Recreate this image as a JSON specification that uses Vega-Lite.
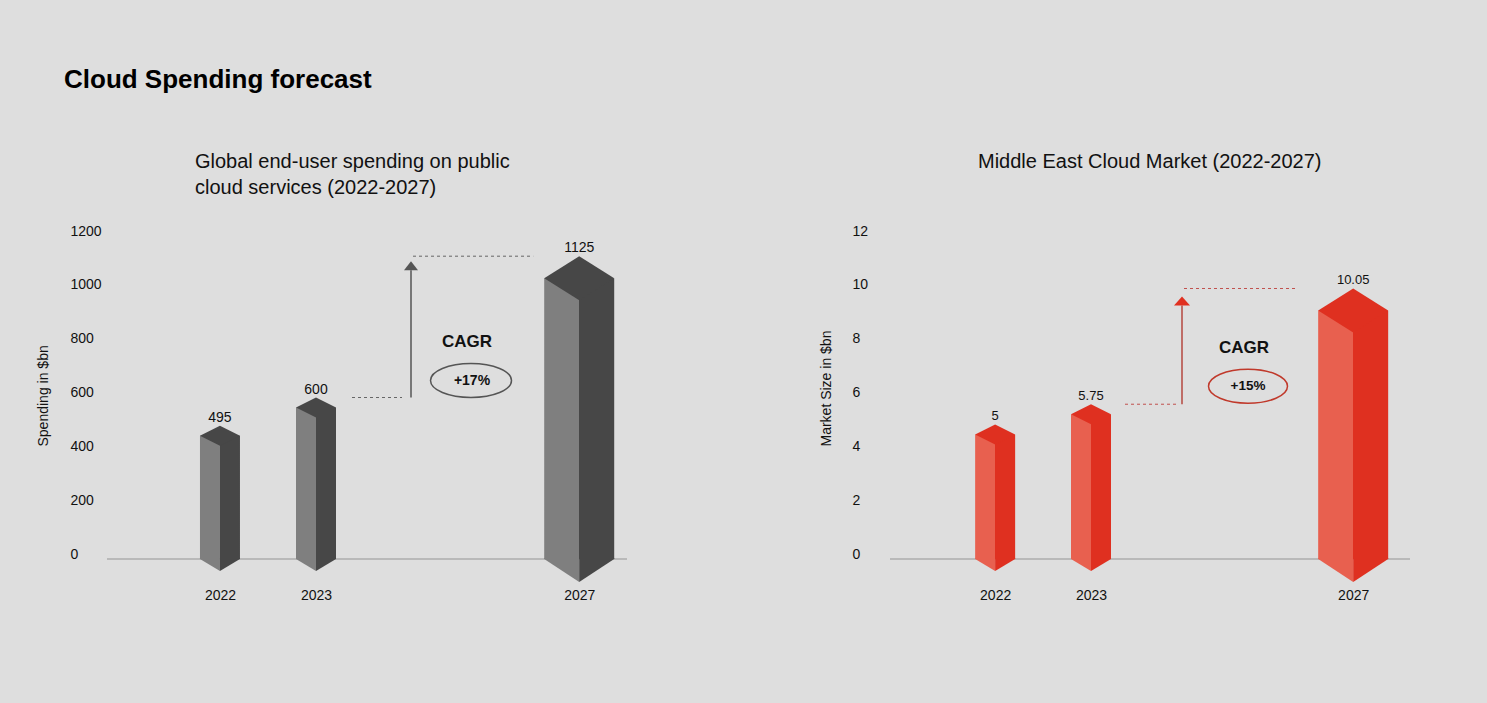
{
  "$schema": "https://vega.github.io/schema/vega-lite/v6.json",
  "background": "#dedede",
  "padding": {"left": 36, "top": 67, "right": 78, "bottom": 114},
  "title": {"text": "Cloud Spending forecast", "anchor": "start", "dx": 28, "offset": 59, "fontSize": 26, "fontWeight": "bold", "font": "Liberation Sans", "color": "#000000"},
  "spacing": 191,
  "config": {"view": {"stroke": null}, "font": "Liberation Sans", "text": {"font": "Liberation Sans"}},
  "hconcat": [
    {
      "width": 520, "height": 323,
      "title": {"text": ["Global end-user spending on public", "cloud services (2022-2027)"], "anchor": "start", "dx": 159, "offset": 26, "fontSize": 20, "fontWeight": "normal", "lineHeight": 26, "color": "#111111", "font": "Liberation Sans"},
      "data": {"values": [{"year": 2022, "spending": 495}, {"year": 2023, "spending": 600}, {"year": 2027, "spending": 1125}]},
      "layer": [
        {"mark": {"type": "rule", "color": "#b8b8b8", "strokeWidth": 1.5}, "encoding": {"y": {"datum": 0, "type": "quantitative"}}},
        {"transform": [{"filter": "datum.year < 2027"}],
         "mark": {"type": "bar", "orient": "vertical", "width": 40, "yOffset": 10, "fill": {"gradient": "linear", "x1": 0, "y1": 0, "x2": 1, "y2": 0, "stops": [{"offset": 0, "color": "#7f7f7f"}, {"offset": 0.5, "color": "#7f7f7f"}, {"offset": 0.5, "color": "#474747"}, {"offset": 1, "color": "#474747"}]}},
         "encoding": {
           "x": {"field": "year", "type": "quantitative", "scale": {"domain": [2020.89, 2023, 2027.66], "range": [0, 209, 520], "nice": false, "zero": false},
                 "axis": {"values": [2022, 2023, 2027], "format": "d", "ticks": false, "domain": false, "grid": false, "labelPadding": 29, "labelFontSize": 14, "labelColor": "#111111", "labelFont": "Liberation Sans", "title": null}},
           "y": {"field": "spending", "type": "quantitative", "scale": {"domain": [0, 1200], "nice": false, "zero": true},
                 "axis": {"values": [0, 200, 400, 600, 800, 1000, 1200], "format": "d", "ticks": false, "domain": false, "grid": false, "labelAlign": "left", "labelPadding": 37, "labelOffset": -5, "labelFontSize": 14, "labelColor": "#111111", "labelFont": "Liberation Sans",
                          "title": "Spending in $bn", "titleFontSize": 14, "titleFontWeight": "normal", "titleFont": "Liberation Sans", "titleColor": "#111111", "titleX": -57, "titleY": 210, "titleAngle": -90, "titleAlign": "left", "titleBaseline": "bottom"}},
           "y2": {"datum": 0}
         }},
        {"transform": [{"filter": "datum.year == 2027"}],
         "mark": {"type": "bar", "orient": "vertical", "width": 70, "yOffset": 22, "fill": {"gradient": "linear", "x1": 0, "y1": 0, "x2": 1, "y2": 0, "stops": [{"offset": 0, "color": "#7f7f7f"}, {"offset": 0.5, "color": "#7f7f7f"}, {"offset": 0.5, "color": "#474747"}, {"offset": 1, "color": "#474747"}]}},
         "encoding": {"x": {"field": "year", "type": "quantitative"}, "y": {"field": "spending", "type": "quantitative"}, "y2": {"datum": 0}}},
        {"transform": [{"filter": "datum.year < 2027"}],
         "mark": {"type": "point", "shape": "M-1,0.5L0,0L1,0.5L0,1Z", "size": 1600, "filled": true, "color": "#474747", "opacity": 1, "strokeWidth": 0},
         "encoding": {"x": {"field": "year", "type": "quantitative"}, "y": {"field": "spending", "type": "quantitative"}}},
        {"transform": [{"filter": "datum.year == 2027"}],
         "mark": {"type": "point", "shape": "M-1,0.63L0,0L1,0.63L0,1.26Z", "size": 4900, "filled": true, "color": "#474747", "opacity": 1, "strokeWidth": 0},
         "encoding": {"x": {"field": "year", "type": "quantitative"}, "y": {"field": "spending", "type": "quantitative"}}},
        {"transform": [{"filter": "datum.year < 2027"}],
         "mark": {"type": "point", "shape": "M-1,-0.05L0,-0.05L0,0.6L-1,0Z", "size": 1600, "filled": true, "color": "#7f7f7f", "opacity": 1, "strokeWidth": 0},
         "encoding": {"x": {"field": "year", "type": "quantitative"}, "y": {"datum": 0, "type": "quantitative"}}},
        {"transform": [{"filter": "datum.year < 2027"}],
         "mark": {"type": "point", "shape": "M0,-0.05L1,-0.05L1,0L0,0.6Z", "size": 1600, "filled": true, "color": "#474747", "opacity": 1, "strokeWidth": 0},
         "encoding": {"x": {"field": "year", "type": "quantitative"}, "y": {"datum": 0, "type": "quantitative"}}},
        {"transform": [{"filter": "datum.year == 2027"}],
         "mark": {"type": "point", "shape": "M-1,-0.03L0,-0.03L0,0.66L-1,0Z", "size": 4900, "filled": true, "color": "#7f7f7f", "opacity": 1, "strokeWidth": 0},
         "encoding": {"x": {"field": "year", "type": "quantitative"}, "y": {"datum": 0, "type": "quantitative"}}},
        {"transform": [{"filter": "datum.year == 2027"}],
         "mark": {"type": "point", "shape": "M0,-0.03L1,-0.03L1,0L0,0.66Z", "size": 4900, "filled": true, "color": "#474747", "opacity": 1, "strokeWidth": 0},
         "encoding": {"x": {"field": "year", "type": "quantitative"}, "y": {"datum": 0, "type": "quantitative"}}},
        {"mark": {"type": "text", "dy": -4, "baseline": "alphabetic", "fontSize": 14, "color": "#111111"},
         "encoding": {"x": {"field": "year", "type": "quantitative"}, "y": {"field": "spending", "type": "quantitative"}, "text": {"field": "spending", "type": "quantitative", "format": "~g"}}},
        {"data": {"values": [{"start": 2023, "end": 2027, "from": 600, "to": 1125, "label": "CAGR", "cagr": "+17%"}]},
         "layer": [
           {"mark": {"type": "rule", "color": "#666666", "strokeWidth": 1, "strokeDash": [3, 3], "xOffset": 36, "x2Offset": 86},
            "encoding": {"x": {"field": "start", "type": "quantitative"}, "x2": {"field": "start"}, "y": {"field": "from", "type": "quantitative"}}},
           {"mark": {"type": "rule", "color": "#666666", "strokeWidth": 1, "strokeDash": [3, 3], "xOffset": 97, "x2Offset": -46},
            "encoding": {"x": {"field": "start", "type": "quantitative"}, "x2": {"field": "end"}, "y": {"field": "to", "type": "quantitative"}}},
           {"mark": {"type": "rule", "color": "#555555", "strokeWidth": 1.5, "xOffset": 95, "y2Offset": 14},
            "encoding": {"x": {"field": "start", "type": "quantitative"}, "y": {"field": "from", "type": "quantitative"}, "y2": {"field": "to"}}},
           {"mark": {"type": "point", "shape": "M0,0.5L0.7,1.4L-0.7,1.4Z", "size": 400, "filled": true, "color": "#555555", "opacity": 1, "strokeWidth": 0, "xOffset": 95},
            "encoding": {"x": {"field": "start", "type": "quantitative"}, "y": {"field": "to", "type": "quantitative"}}},
           {"mark": {"type": "text", "dx": 151, "dy": -56, "baseline": "middle", "align": "center", "fontSize": 17, "fontWeight": "bold", "color": "#111111"},
            "encoding": {"x": {"field": "start", "type": "quantitative"}, "y": {"field": "from", "type": "quantitative"}, "text": {"field": "label"}}},
           {"mark": {"type": "point", "shape": "M-1,0A1,0.42,0,1,1,1,0A1,0.42,0,1,1,-1,0Z", "size": 6561, "filled": false, "color": "#555555", "opacity": 1, "strokeWidth": 1.5, "xOffset": 155, "yOffset": -17},
            "encoding": {"x": {"field": "start", "type": "quantitative"}, "y": {"field": "from", "type": "quantitative"}}},
           {"mark": {"type": "text", "dx": 156, "dy": -17, "baseline": "middle", "align": "center", "fontSize": 14, "fontWeight": "bold", "color": "#111111"},
            "encoding": {"x": {"field": "start", "type": "quantitative"}, "y": {"field": "from", "type": "quantitative"}, "text": {"field": "cagr"}}}
         ]}
      ]
    },
    {
      "width": 520, "height": 323,
      "title": {"text": "Middle East Cloud Market (2022-2027)", "anchor": "start", "dx": 159, "offset": 52, "fontSize": 20, "fontWeight": "normal", "color": "#111111", "font": "Liberation Sans"},
      "data": {"values": [{"year": 2022, "market": 5}, {"year": 2023, "market": 5.75}, {"year": 2027, "market": 10.05}]},
      "layer": [
        {"mark": {"type": "rule", "color": "#b8b8b8", "strokeWidth": 1.5}, "encoding": {"y": {"datum": 0, "type": "quantitative"}}},
        {"transform": [{"filter": "datum.year < 2027"}],
         "mark": {"type": "bar", "orient": "vertical", "width": 40, "yOffset": 10, "fill": {"gradient": "linear", "x1": 0, "y1": 0, "x2": 1, "y2": 0, "stops": [{"offset": 0, "color": "#e8604f"}, {"offset": 0.5, "color": "#e8604f"}, {"offset": 0.5, "color": "#df3020"}, {"offset": 1, "color": "#df3020"}]}},
         "encoding": {
           "x": {"field": "year", "type": "quantitative", "scale": {"domain": [2020.97, 2023, 2027.8], "range": [0, 201, 520], "nice": false, "zero": false},
                 "axis": {"values": [2022, 2023, 2027], "format": "d", "ticks": false, "domain": false, "grid": false, "labelPadding": 29, "labelFontSize": 14, "labelColor": "#111111", "labelFont": "Liberation Sans", "title": null}},
           "y": {"field": "market", "type": "quantitative", "scale": {"domain": [0, 12], "nice": false, "zero": true},
                 "axis": {"values": [0, 2, 4, 6, 8, 10, 12], "format": "d", "ticks": false, "domain": false, "grid": false, "labelAlign": "left", "labelPadding": 38, "labelOffset": -5, "labelFontSize": 14, "labelColor": "#111111", "labelFont": "Liberation Sans",
                          "title": "Market Size in $bn", "titleFontSize": 14, "titleFontWeight": "normal", "titleFont": "Liberation Sans", "titleColor": "#111111", "titleX": -57, "titleY": 210, "titleAngle": -90, "titleAlign": "left", "titleBaseline": "bottom"}},
           "y2": {"datum": 0}
         }},
        {"transform": [{"filter": "datum.year == 2027"}],
         "mark": {"type": "bar", "orient": "vertical", "width": 70, "yOffset": 22, "fill": {"gradient": "linear", "x1": 0, "y1": 0, "x2": 1, "y2": 0, "stops": [{"offset": 0, "color": "#e8604f"}, {"offset": 0.5, "color": "#e8604f"}, {"offset": 0.5, "color": "#df3020"}, {"offset": 1, "color": "#df3020"}]}},
         "encoding": {"x": {"field": "year", "type": "quantitative"}, "y": {"field": "market", "type": "quantitative"}, "y2": {"datum": 0}}},
        {"transform": [{"filter": "datum.year < 2027"}],
         "mark": {"type": "point", "shape": "M-1,0.5L0,0L1,0.5L0,1Z", "size": 1600, "filled": true, "color": "#df3020", "opacity": 1, "strokeWidth": 0},
         "encoding": {"x": {"field": "year", "type": "quantitative"}, "y": {"field": "market", "type": "quantitative"}}},
        {"transform": [{"filter": "datum.year == 2027"}],
         "mark": {"type": "point", "shape": "M-1,0.63L0,0L1,0.63L0,1.26Z", "size": 4900, "filled": true, "color": "#df3020", "opacity": 1, "strokeWidth": 0},
         "encoding": {"x": {"field": "year", "type": "quantitative"}, "y": {"field": "market", "type": "quantitative"}}},
        {"transform": [{"filter": "datum.year < 2027"}],
         "mark": {"type": "point", "shape": "M-1,-0.05L0,-0.05L0,0.6L-1,0Z", "size": 1600, "filled": true, "color": "#e8604f", "opacity": 1, "strokeWidth": 0},
         "encoding": {"x": {"field": "year", "type": "quantitative"}, "y": {"datum": 0, "type": "quantitative"}}},
        {"transform": [{"filter": "datum.year < 2027"}],
         "mark": {"type": "point", "shape": "M0,-0.05L1,-0.05L1,0L0,0.6Z", "size": 1600, "filled": true, "color": "#df3020", "opacity": 1, "strokeWidth": 0},
         "encoding": {"x": {"field": "year", "type": "quantitative"}, "y": {"datum": 0, "type": "quantitative"}}},
        {"transform": [{"filter": "datum.year == 2027"}],
         "mark": {"type": "point", "shape": "M-1,-0.03L0,-0.03L0,0.66L-1,0Z", "size": 4900, "filled": true, "color": "#e8604f", "opacity": 1, "strokeWidth": 0},
         "encoding": {"x": {"field": "year", "type": "quantitative"}, "y": {"datum": 0, "type": "quantitative"}}},
        {"transform": [{"filter": "datum.year == 2027"}],
         "mark": {"type": "point", "shape": "M0,-0.03L1,-0.03L1,0L0,0.66Z", "size": 4900, "filled": true, "color": "#df3020", "opacity": 1, "strokeWidth": 0},
         "encoding": {"x": {"field": "year", "type": "quantitative"}, "y": {"datum": 0, "type": "quantitative"}}},
        {"mark": {"type": "text", "dy": -4, "baseline": "alphabetic", "fontSize": 13, "color": "#111111"},
         "encoding": {"x": {"field": "year", "type": "quantitative"}, "y": {"field": "market", "type": "quantitative"}, "text": {"field": "market", "type": "quantitative", "format": "~g"}}},
        {"data": {"values": [{"start": 2023, "end": 2027, "from": 5.75, "to": 10.05, "label": "CAGR", "cagr": "+15%"}]},
         "layer": [
           {"mark": {"type": "rule", "color": "#c0504d", "strokeWidth": 1, "strokeDash": [3, 3], "xOffset": 34, "x2Offset": 86},
            "encoding": {"x": {"field": "start", "type": "quantitative"}, "x2": {"field": "start"}, "y": {"field": "from", "type": "quantitative"}}},
           {"mark": {"type": "rule", "color": "#c0504d", "strokeWidth": 1, "strokeDash": [3, 3], "xOffset": 93, "x2Offset": -56},
            "encoding": {"x": {"field": "start", "type": "quantitative"}, "x2": {"field": "end"}, "y": {"field": "to", "type": "quantitative"}}},
           {"mark": {"type": "rule", "color": "#b5473f", "strokeWidth": 1.5, "xOffset": 91, "y2Offset": 17},
            "encoding": {"x": {"field": "start", "type": "quantitative"}, "y": {"field": "from", "type": "quantitative"}, "y2": {"field": "to"}}},
           {"mark": {"type": "point", "shape": "M0,0.8L0.8,1.7L-0.8,1.7Z", "size": 400, "filled": true, "color": "#e03020", "opacity": 1, "strokeWidth": 0, "xOffset": 91},
            "encoding": {"x": {"field": "start", "type": "quantitative"}, "y": {"field": "to", "type": "quantitative"}}},
           {"mark": {"type": "text", "dx": 153, "dy": -56, "baseline": "middle", "align": "center", "fontSize": 17, "fontWeight": "bold", "color": "#111111"},
            "encoding": {"x": {"field": "start", "type": "quantitative"}, "y": {"field": "from", "type": "quantitative"}, "text": {"field": "label"}}},
           {"mark": {"type": "point", "shape": "M-1,0A1,0.43,0,1,1,1,0A1,0.43,0,1,1,-1,0Z", "size": 6241, "filled": false, "color": "#c0392b", "opacity": 1, "strokeWidth": 1.5, "xOffset": 157, "yOffset": -18},
            "encoding": {"x": {"field": "start", "type": "quantitative"}, "y": {"field": "from", "type": "quantitative"}}},
           {"mark": {"type": "text", "dx": 157, "dy": -18, "baseline": "middle", "align": "center", "fontSize": 13.5, "fontWeight": "bold", "color": "#111111"},
            "encoding": {"x": {"field": "start", "type": "quantitative"}, "y": {"field": "from", "type": "quantitative"}, "text": {"field": "cagr"}}}
         ]}
      ]
    }
  ]
}
